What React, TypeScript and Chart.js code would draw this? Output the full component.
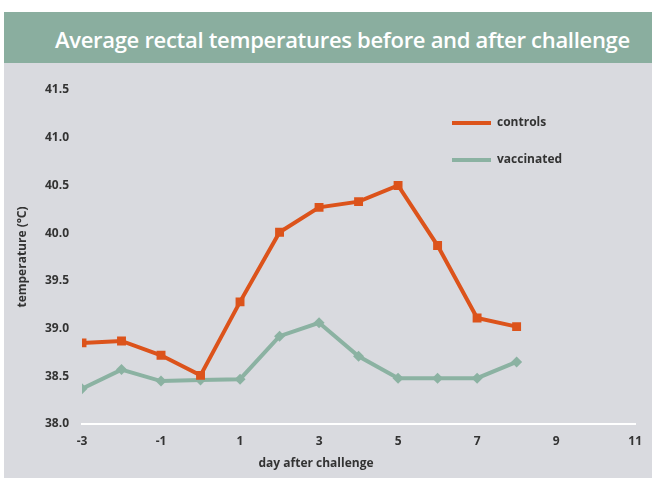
import React, { useEffect, useRef } from "react";
import { Chart, registerables } from "chart.js";

Chart.register(...registerables);

const days = [-3, -2, -1, 0, 1, 2, 3, 4, 5, 6, 7, 8];
const controls = [38.85, 38.87, 38.72, 38.51, 39.28, 40.01, 40.27, 40.33, 40.5, 39.87, 39.11, 39.02];
const vaccinated = [38.37, 38.57, 38.45, 38.46, 38.47, 38.92, 39.06, 38.71, 38.48, 38.48, 38.48, 38.65];
const yTicks = [38.0, 38.5, 39.0, 39.5, 40.0, 40.5, 41.0, 41.5];
const xTicks = [-3, -1, 1, 3, 5, 7, 9, 11];

const TITLE = "Average rectal temperatures before and after challenge";
const X_TITLE = "day after challenge";
const Y_TITLE = "temperature (°C)";

const ORANGE = "#dc531b";
const GREEN = "#8bb2a2";
const TEXT = "#333333";
const FONT = "'Open Sans', sans-serif";

const overlayPlugin = {
  id: "overlay",
  afterDraw(chart: any) {
    const { ctx } = chart;
    ctx.save();
    // legend
    const ds = chart.data.datasets;
    const lx0 = 448, lx1 = 487, ly0 = 60, gap = 37;
    ds.forEach((d: any, i: number) => {
      const y = ly0 + i * gap;
      ctx.strokeStyle = d.borderColor;
      ctx.lineWidth = 4;
      ctx.beginPath();
      ctx.moveTo(lx0, y);
      ctx.lineTo(lx1, y);
      ctx.stroke();
      ctx.fillStyle = TEXT;
      ctx.font = `bold 12px ${FONT}`;
      ctx.textAlign = "left";
      ctx.textBaseline = "middle";
      ctx.fillText(d.label, lx1 + 6, y);
    });
    // x title
    ctx.fillStyle = TEXT;
    ctx.font = `bold 12px ${FONT}`;
    ctx.textAlign = "center";
    ctx.textBaseline = "middle";
    ctx.fillText(X_TITLE, 312, 401);
    ctx.restore();
  },
};

export default function App() {
  const ref = useRef<HTMLCanvasElement | null>(null);

  useEffect(() => {
    document.body.style.margin = "0";
    const canvas = ref.current!;
    const chart = new Chart(canvas, {
      type: "line",
      data: {
        datasets: [
          {
            label: "controls",
            data: days.map((d, i) => ({ x: d, y: controls[i] })),
            borderColor: ORANGE,
            backgroundColor: ORANGE,
            borderWidth: 4,
            pointStyle: "rect",
            pointRadius: 6.3,
            pointBorderWidth: 0,
            pointBackgroundColor: ORANGE,
            tension: 0,
          },
          {
            label: "vaccinated",
            data: days.map((d, i) => ({ x: d, y: vaccinated[i] })),
            borderColor: GREEN,
            backgroundColor: GREEN,
            borderWidth: 4,
            pointStyle: "rectRot",
            pointRadius: 5.5,
            pointBorderWidth: 0,
            pointBackgroundColor: GREEN,
            tension: 0,
          },
        ],
      },
      options: {
        animation: false,
        responsive: false,
        maintainAspectRatio: false,
        layout: { padding: { left: 0, right: 13, top: 27, bottom: 0 } },
        plugins: {
          legend: { display: false },
          tooltip: { enabled: false },
          title: { display: false },
        },
        scales: {
          x: {
            type: "linear",
            min: xTicks[0],
            max: xTicks[xTicks.length - 1],
            afterBuildTicks: (s: any) => {
              s.ticks = xTicks.map((v) => ({ value: v }));
            },
            afterFit: (s: any) => {
              s.height = 54;
            },
            grid: { display: false, drawTicks: false },
            border: { display: true, color: "#ffffff", width: 2 },
            ticks: {
              padding: 10,
              color: TEXT,
              font: { family: FONT, size: 12, weight: "bold" },
              callback: (v: any) => String(v),
            },
          },
          y: {
            type: "linear",
            min: yTicks[0],
            max: yTicks[yTicks.length - 1],
            afterBuildTicks: (s: any) => {
              s.ticks = yTicks.map((v) => ({ value: v }));
            },
            afterFit: (s: any) => {
              s.width = 78;
            },
            grid: { display: false, drawTicks: false },
            border: { display: false },
            ticks: {
              padding: 13,
              color: TEXT,
              font: { family: FONT, size: 12, weight: "bold" },
              callback: (v: any) => Number(v).toFixed(1),
            },
            title: {
              display: true,
              text: Y_TITLE,
              color: TEXT,
              font: { family: FONT, size: 12, weight: "bold" },
              padding: { top: 11, bottom: 0 },
            },
          },
        },
      },
      plugins: [overlayPlugin],
    });
    return () => chart.destroy();
  }, []);

  return (
    <div style={{ position: "relative", width: 652, height: 478, background: "#ffffff", overflow: "hidden" }}>
      <div
        style={{
          position: "absolute",
          left: 4,
          top: 12,
          width: 648,
          height: 51,
          background: "#8aae9f",
          color: "#ffffff",
          fontFamily: FONT,
          fontWeight: 600,
          fontSize: 22,
          letterSpacing: "-0.3px",
          lineHeight: "55px",
          whiteSpace: "nowrap",
        }}
      >
        <span style={{ position: "absolute", left: 51 }}>{TITLE}</span>
      </div>
      <div style={{ position: "absolute", left: 4, top: 63, width: 648, height: 415, background: "#d9dadf" }}>
        <canvas ref={ref} width={648} height={415} style={{ display: "block", width: 648, height: 415 }} />
      </div>
    </div>
  );
}
